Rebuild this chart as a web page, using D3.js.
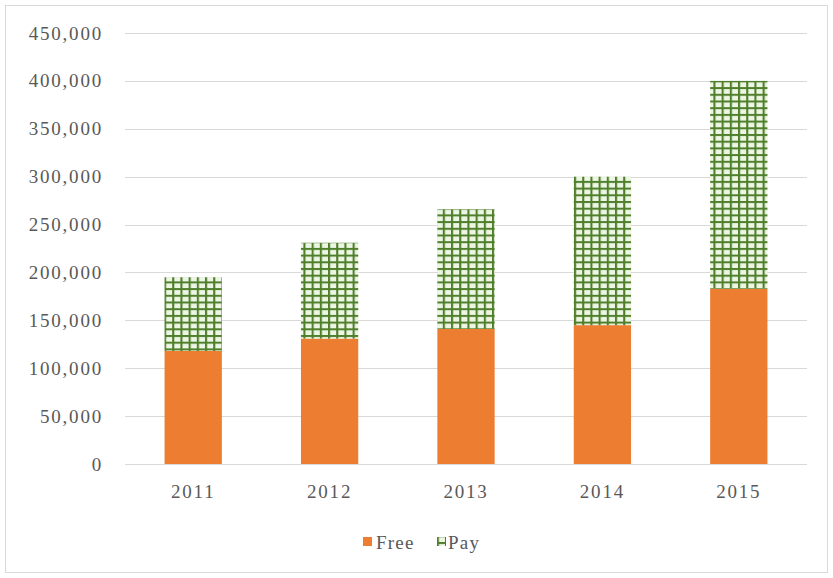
<!DOCTYPE html>
<html><head><meta charset="utf-8">
<script src="https://cdnjs.cloudflare.com/ajax/libs/d3/7.8.5/d3.min.js"></script>
<style>body{margin:0;background:#fff}svg{display:block}</style>
</head><body>
<svg id="c" width="833" height="578"></svg>
<script>
const categories = ["2011","2012","2013","2014","2015"];
const freeValues = [118000,131000,141000,145000,183000];
const payValues = [77000,100000,125000,155000,217000];
const yTicks = [0,50000,100000,150000,200000,250000,300000,350000,400000,450000];
const seriesNames = ["Free","Pay"];

const svg = d3.select("#c");
const W=833,H=578;
const m={left:125,right:26,top:33,bottom:114};
const x = d3.scaleBand().domain(categories).range([m.left, W-m.right]).paddingInner(0.58).paddingOuter(0.29);
const y = d3.scaleLinear().domain([0,450000]).range([H-m.bottom, m.top]);
const font = "'Liberation Serif', 'Times New Roman', serif";
const txt = "#595959";

svg.append("rect").attr("x",5.5).attr("y",5.5).attr("width",W-11).attr("height",H-11)
  .attr("fill","#fff").attr("stroke","#d9d9d9");

const defs = svg.append("defs");
const pw=8.2, ph=6.7;
const pat = defs.append("pattern").attr("id","grid").attr("patternUnits","userSpaceOnUse")
  .attr("width",pw).attr("height",ph);
pat.append("rect").attr("width",pw).attr("height",ph).attr("fill","#edf6e4");
pat.append("rect").attr("x",0).attr("y",0).attr("width",2.1).attr("height",ph).attr("fill","#4f7f2b");
pat.append("rect").attr("x",0).attr("y",0).attr("width",pw).attr("height",2).attr("fill","#4f7f2b");

// gridlines
svg.append("g").selectAll("line").data(yTicks).join("line")
  .attr("x1",m.left).attr("x2",W-m.right)
  .attr("y1",d=>Math.round(y(d))+0.5).attr("y2",d=>Math.round(y(d))+0.5)
  .attr("stroke","#d9d9d9").attr("stroke-width",1);

// y axis
const ya = svg.append("g").attr("transform",`translate(${m.left-22},0)`)
  .call(d3.axisLeft(y).tickValues(yTicks).tickSize(0).tickPadding(0).tickFormat(d3.format(",")));
ya.select(".domain").remove();
ya.selectAll("text").attr("font-family",font).attr("font-size",19).attr("fill",txt)
  .attr("letter-spacing","1.8px");

// x axis
const xa = svg.append("g").attr("transform",`translate(0,${H-m.bottom})`)
  .call(d3.axisBottom(x).tickSize(0).tickPadding(21));
xa.select(".domain").remove();
xa.selectAll("text").attr("font-family",font).attr("font-size",19).attr("fill",txt)
  .attr("letter-spacing","1.8px");

// bars
const g = svg.append("g");
g.selectAll("rect.free").data(categories).join("rect").attr("class","free")
  .attr("x",d=>x(d)).attr("width",x.bandwidth())
  .attr("y",(d,i)=>y(freeValues[i])).attr("height",(d,i)=>y(0)-y(freeValues[i]))
  .attr("fill","#ED7D31");
g.selectAll("rect.pay").data(categories).join("rect").attr("class","pay")
  .attr("x",d=>x(d)).attr("width",x.bandwidth())
  .attr("y",(d,i)=>y(freeValues[i]+payValues[i])).attr("height",(d,i)=>y(freeValues[i])-y(freeValues[i]+payValues[i]))
  .attr("fill","url(#grid)");

// legend
const lg = svg.append("g").attr("transform","translate(363,542)");
lg.append("rect").attr("x",0).attr("y",-5).attr("width",9).attr("height",9).attr("fill","#ED7D31");
lg.append("text").attr("x",13).attr("y",6.5).text(seriesNames[0])
  .attr("font-family",font).attr("font-size",19).attr("fill",txt).attr("letter-spacing","1.2px");
lg.append("rect").attr("x",74).attr("y",-5).attr("width",9).attr("height",9).attr("fill","url(#grid)");
lg.append("text").attr("x",85).attr("y",6.5).text(seriesNames[1])
  .attr("font-family",font).attr("font-size",19).attr("fill",txt).attr("letter-spacing","1.2px");
</script>
</body></html>
